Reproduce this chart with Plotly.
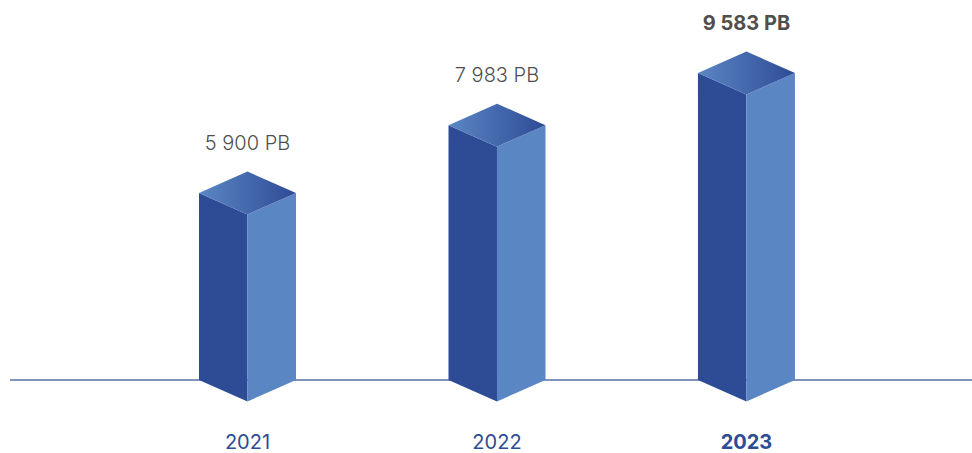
import plotly.graph_objects as go

years = ["2021", "2022", "2023"]
values = [5900, 7983, 9583]
value_labels = ["5 900 PB", "7 983 PB", "9 583 PB"]
bold_flags = [False, False, True]

BASE = 160         # value at which the baseline sits
HALF = 0.1944      # half width of a column, in category units
DEPTH = 660        # half depth of the diamond, in value units
LABEL_GAP = 500    # extra distance between column and value label
DARK = "#2E4B96"
LIGHT = "#5B86C4"
TEXT = "#4F4F4F"
FONT = "Inter"

fig = go.Figure()

# baseline
fig.add_trace(go.Scatter(x=[-0.952, 2.904], y=[BASE, BASE], mode="lines",
                         line=dict(color="#5A6EA6", width=1.5),
                         hoverinfo="skip", showlegend=False))

for i, v in enumerate(values):
    # left face
    fig.add_trace(go.Scatter(
        x=[i - HALF, i, i, i - HALF, i - HALF],
        y=[BASE, BASE - DEPTH, v - DEPTH, v, BASE],
        mode="lines", fill="toself", fillcolor=DARK, line=dict(width=0),
        hoverinfo="skip", showlegend=False))
    # right face
    fig.add_trace(go.Scatter(
        x=[i, i + HALF, i + HALF, i, i],
        y=[BASE - DEPTH, BASE, v, v - DEPTH, BASE - DEPTH],
        mode="lines", fill="toself", fillcolor=LIGHT, line=dict(width=0),
        hoverinfo="skip", showlegend=False))
    # top face
    fig.add_trace(go.Scatter(
        x=[i - HALF, i, i + HALF, i, i - HALF],
        y=[v, v + DEPTH, v, v - DEPTH, v],
        mode="lines", fill="toself", line=dict(width=0),
        fillgradient=dict(type="horizontal",
                          colorscale=[[0, LIGHT], [1, DARK]]),
        hoverinfo="skip", showlegend=False))

# value labels
fig.add_trace(go.Scatter(
    x=list(range(len(values))),
    y=[v + DEPTH + LABEL_GAP for v in values],
    mode="text",
    text=[f"<b>{t}</b>" if b else t for t, b in zip(value_labels, bold_flags)],
    textposition="top center",
    textfont=dict(family=FONT, size=20, color=TEXT, weight=300),
    hoverinfo="skip", showlegend=False))

fig.update_layout(
    width=972, height=453,
    margin=dict(l=0, r=0, t=0, b=25, autoexpand=False),
    paper_bgcolor="white", plot_bgcolor="white",
    showlegend=False,
    xaxis=dict(range=[-0.992, 2.904], showgrid=False, zeroline=False,
               showline=False, ticks="",
               tickmode="array", tickvals=[0, 1, 2],
               ticktext=[f"<b>{y}</b>" if b else y for y, b in zip(years, bold_flags)],
               tickfont=dict(family=FONT, size=20, color=DARK)),
    yaxis=dict(range=[-1313, 11824], showgrid=False, zeroline=False,
               showline=False, showticklabels=False, ticks=""),
)

fig.write_html("out.html", config={"displayModeBar": False},
               post_script="document.body.style.margin='0';document.body.style.overflow='hidden';")
